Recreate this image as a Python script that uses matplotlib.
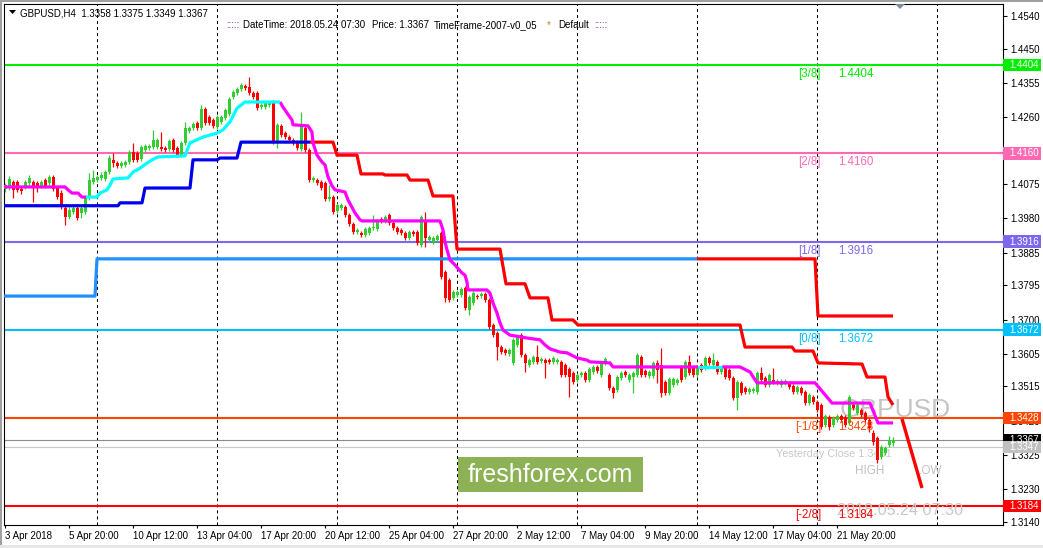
import matplotlib
matplotlib.use("Agg")
import matplotlib.pyplot as plt
from matplotlib.patches import Rectangle, Polygon

plt.rcParams['font.family'] = ['Liberation Sans', 'DejaVu Sans']

# ---------------- data (GBPUSD H4) ----------------
opens = [1.4061, 1.4067, 1.4081, 1.4081, 1.4061, 1.4067, 1.4078, 1.4081, 1.4078, 1.4070,
         1.4086, 1.4078, 1.4095, 1.4064, 1.4050, 1.4009, 1.3984, 1.3998, 1.4009, 1.3995,
         1.3998, 1.4037, 1.4081, 1.4086, 1.4092, 1.4089, 1.4108, 1.4142, 1.4133, 1.4125,
         1.4128, 1.4136, 1.4164, 1.4161, 1.4144, 1.4169, 1.4175, 1.4177, 1.4177, 1.4177,
         1.4175, 1.4172, 1.4197, 1.4175, 1.4155, 1.4189, 1.4222, 1.4230, 1.4244, 1.4230,
         1.4283, 1.4261, 1.4252, 1.4233, 1.4247, 1.4258, 1.4269, 1.4316, 1.4327, 1.4338,
         1.4346, 1.4344, 1.4327, 1.4327, 1.4288, 1.4288, 1.4294, 1.4302, 1.4191, 1.4236,
         1.4216, 1.4205, 1.4197, 1.4191, 1.4172, 1.4230, 1.4169, 1.4086, 1.4086, 1.4081,
         1.4078, 1.4034, 1.4039, 1.4001, 1.4009, 1.4012, 1.3990, 1.3965, 1.3942, 1.3940,
         1.3934, 1.3940, 1.3954, 1.3951, 1.3979, 1.3973, 1.3990, 1.3967, 1.3954, 1.3948,
         1.3940, 1.3926, 1.3942, 1.3942, 1.3906, 1.3970, 1.3920, 1.3915, 1.3920, 1.3940,
         1.3832, 1.3810, 1.3760, 1.3768, 1.3768, 1.3787, 1.3727, 1.3746, 1.3765, 1.3765,
         1.3771, 1.3754, 1.3685, 1.3663, 1.3624, 1.3616, 1.3605, 1.3580, 1.3630, 1.3657,
         1.3602, 1.3574, 1.3583, 1.3597, 1.3585, 1.3588, 1.3588, 1.3583, 1.3583, 1.3583,
         1.3574, 1.3563, 1.3552, 1.3533, 1.3547, 1.3552, 1.3533, 1.3555, 1.3569, 1.3547,
         1.3580, 1.3547, 1.3511, 1.3505, 1.3539, 1.3555, 1.3533, 1.3541, 1.3547, 1.3597,
         1.3558, 1.3544, 1.3544, 1.3580, 1.3574, 1.3528, 1.3497, 1.3519, 1.3525, 1.3569,
         1.3541, 1.3583, 1.3566, 1.3547, 1.3574, 1.3566, 1.3594, 1.3574, 1.3583, 1.3555,
         1.3566, 1.3561, 1.3539, 1.3483, 1.3525, 1.3511, 1.3500, 1.3503, 1.3500, 1.3552,
         1.3539, 1.3519, 1.3533, 1.3525, 1.3519, 1.3525, 1.3525, 1.3517, 1.3500, 1.3511,
         1.3500, 1.3469, 1.3486, 1.3472, 1.3464, 1.3409, 1.3431, 1.3409, 1.3422, 1.3434,
         1.3431, 1.3414, 1.3464, 1.3442, 1.3450, 1.3442, 1.3422, 1.3386, 1.3372, 1.3320,
         1.3331, 1.3353, 1.3358]
highs = [1.4078, 1.4097, 1.4086, 1.4086, 1.4070, 1.4086, 1.4100, 1.4086, 1.4084, 1.4086,
         1.4092, 1.4100, 1.4100, 1.4070, 1.4059, 1.4017, 1.4012, 1.4015, 1.4017, 1.4017,
         1.4042, 1.4106, 1.4114, 1.4100, 1.4108, 1.4114, 1.4155, 1.4161, 1.4139, 1.4139,
         1.4142, 1.4169, 1.4189, 1.4166, 1.4183, 1.4186, 1.4186, 1.4225, 1.4202, 1.4219,
         1.4180, 1.4200, 1.4202, 1.4180, 1.4194, 1.4247, 1.4236, 1.4247, 1.4250, 1.4294,
         1.4288, 1.4266, 1.4258, 1.4266, 1.4266, 1.4285, 1.4316, 1.4335, 1.4344, 1.4355,
         1.4352, 1.4371, 1.4333, 1.4333, 1.4299, 1.4305, 1.4305, 1.4308, 1.4244, 1.4241,
         1.4222, 1.4211, 1.4202, 1.4197, 1.4274, 1.4239, 1.4175, 1.4097, 1.4092, 1.4086,
         1.4084, 1.4072, 1.4045, 1.4023, 1.4023, 1.4017, 1.3995, 1.3970, 1.3954, 1.3945,
         1.3956, 1.3959, 1.3990, 1.3979, 1.3984, 1.3990, 1.3995, 1.3973, 1.3959, 1.3954,
         1.3945, 1.3948, 1.3948, 1.3948, 1.3990, 1.3998, 1.3934, 1.3931, 1.3937, 1.3945,
         1.3837, 1.3815, 1.3782, 1.3782, 1.3790, 1.3793, 1.3768, 1.3779, 1.3771, 1.3776,
         1.3776, 1.3760, 1.3691, 1.3668, 1.3630, 1.3622, 1.3622, 1.3649, 1.3655, 1.3663,
         1.3608, 1.3594, 1.3602, 1.3630, 1.3597, 1.3594, 1.3594, 1.3599, 1.3594, 1.3588,
         1.3580, 1.3569, 1.3558, 1.3552, 1.3558, 1.3558, 1.3569, 1.3574, 1.3574, 1.3585,
         1.3597, 1.3552, 1.3517, 1.3547, 1.3558, 1.3561, 1.3552, 1.3558, 1.3608, 1.3602,
         1.3563, 1.3561, 1.3585, 1.3588, 1.3622, 1.3533, 1.3541, 1.3541, 1.3539, 1.3574,
         1.3588, 1.3602, 1.3571, 1.3574, 1.3580, 1.3599, 1.3599, 1.3608, 1.3588, 1.3571,
         1.3571, 1.3566, 1.3544, 1.3533, 1.3530, 1.3517, 1.3514, 1.3514, 1.3558, 1.3569,
         1.3544, 1.3552, 1.3566, 1.3536, 1.3536, 1.3536, 1.3530, 1.3522, 1.3519, 1.3517,
         1.3505, 1.3497, 1.3491, 1.3478, 1.3469, 1.3439, 1.3436, 1.3434, 1.3439, 1.3439,
         1.3436, 1.3491, 1.3469, 1.3469, 1.3456, 1.3447, 1.3428, 1.3395, 1.3378, 1.3353,
         1.3350, 1.3378, 1.3375]
lows = [1.4053, 1.4059, 1.4037, 1.4053, 1.4048, 1.4061, 1.4072, 1.4026, 1.4053, 1.4064,
        1.4064, 1.4072, 1.4056, 1.4034, 1.4006, 1.3962, 1.3979, 1.3992, 1.3976, 1.3981,
        1.3992, 1.4031, 1.4075, 1.4081, 1.4086, 1.4084, 1.4103, 1.4122, 1.4119, 1.4119,
        1.4122, 1.4130, 1.4136, 1.4136, 1.4139, 1.4164, 1.4169, 1.4172, 1.4172, 1.4166,
        1.4164, 1.4166, 1.4164, 1.4150, 1.4150, 1.4183, 1.4216, 1.4225, 1.4225, 1.4225,
        1.4239, 1.4239, 1.4230, 1.4227, 1.4241, 1.4252, 1.4263, 1.4310, 1.4322, 1.4333,
        1.4335, 1.4322, 1.4310, 1.4280, 1.4283, 1.4283, 1.4288, 1.4186, 1.4175, 1.4205,
        1.4200, 1.4191, 1.4183, 1.4169, 1.4166, 1.4164, 1.4081, 1.4081, 1.4072, 1.4059,
        1.4028, 1.4028, 1.3992, 1.3995, 1.4003, 1.3984, 1.3959, 1.3937, 1.3937, 1.3929,
        1.3929, 1.3934, 1.3948, 1.3945, 1.3967, 1.3967, 1.3962, 1.3948, 1.3937, 1.3934,
        1.3920, 1.3920, 1.3931, 1.3906, 1.3901, 1.3901, 1.3915, 1.3909, 1.3915, 1.3812,
        1.3749, 1.3749, 1.3754, 1.3762, 1.3762, 1.3727, 1.3713, 1.3740, 1.3757, 1.3760,
        1.3749, 1.3674, 1.3652, 1.3588, 1.3605, 1.3602, 1.3599, 1.3574, 1.3624, 1.3597,
        1.3555, 1.3569, 1.3577, 1.3577, 1.3580, 1.3539, 1.3577, 1.3577, 1.3577, 1.3541,
        1.3541, 1.3486, 1.3522, 1.3528, 1.3541, 1.3528, 1.3528, 1.3550, 1.3552, 1.3541,
        1.3574, 1.3505, 1.3483, 1.3500, 1.3533, 1.3541, 1.3528, 1.3497, 1.3541, 1.3541,
        1.3541, 1.3539, 1.3539, 1.3525, 1.3486, 1.3491, 1.3491, 1.3514, 1.3519, 1.3528,
        1.3536, 1.3547, 1.3541, 1.3541, 1.3555, 1.3561, 1.3574, 1.3569, 1.3550, 1.3550,
        1.3536, 1.3533, 1.3478, 1.3450, 1.3491, 1.3494, 1.3494, 1.3497, 1.3494, 1.3528,
        1.3514, 1.3514, 1.3522, 1.3519, 1.3514, 1.3519, 1.3508, 1.3494, 1.3494, 1.3491,
        1.3464, 1.3464, 1.3467, 1.3445, 1.3397, 1.3403, 1.3395, 1.3403, 1.3417, 1.3417,
        1.3403, 1.3409, 1.3450, 1.3436, 1.3431, 1.3417, 1.3389, 1.3353, 1.3303, 1.3314,
        1.3326, 1.3347, 1.3349]
closes = [1.4072, 1.4089, 1.4059, 1.4059, 1.4056, 1.4081, 1.4092, 1.4064, 1.4070, 1.4081,
          1.4070, 1.4095, 1.4061, 1.4039, 1.4012, 1.3984, 1.4003, 1.4009, 1.3981, 1.4009,
          1.4037, 1.4086, 1.4092, 1.4095, 1.4100, 1.4108, 1.4147, 1.4133, 1.4125, 1.4133,
          1.4136, 1.4164, 1.4142, 1.4142, 1.4177, 1.4180, 1.4180, 1.4197, 1.4197, 1.4172,
          1.4169, 1.4194, 1.4169, 1.4155, 1.4189, 1.4230, 1.4230, 1.4241, 1.4230, 1.4283,
          1.4244, 1.4244, 1.4236, 1.4261, 1.4261, 1.4280, 1.4310, 1.4330, 1.4338, 1.4349,
          1.4341, 1.4327, 1.4316, 1.4285, 1.4294, 1.4299, 1.4299, 1.4191, 1.4239, 1.4211,
          1.4205, 1.4197, 1.4189, 1.4175, 1.4236, 1.4169, 1.4086, 1.4092, 1.4078, 1.4064,
          1.4034, 1.4039, 1.3998, 1.4017, 1.4017, 1.3990, 1.3965, 1.3942, 1.3948, 1.3934,
          1.3951, 1.3954, 1.3956, 1.3970, 1.3973, 1.3984, 1.3967, 1.3954, 1.3942, 1.3940,
          1.3926, 1.3942, 1.3937, 1.3912, 1.3984, 1.3926, 1.3929, 1.3926, 1.3931, 1.3818,
          1.3760, 1.3754, 1.3776, 1.3776, 1.3784, 1.3732, 1.3762, 1.3773, 1.3762, 1.3771,
          1.3754, 1.3680, 1.3657, 1.3624, 1.3610, 1.3608, 1.3616, 1.3644, 1.3649, 1.3602,
          1.3580, 1.3588, 1.3597, 1.3583, 1.3591, 1.3580, 1.3583, 1.3594, 1.3588, 1.3547,
          1.3547, 1.3541, 1.3528, 1.3547, 1.3552, 1.3533, 1.3563, 1.3569, 1.3558, 1.3580,
          1.3591, 1.3511, 1.3497, 1.3541, 1.3552, 1.3547, 1.3547, 1.3552, 1.3602, 1.3547,
          1.3547, 1.3555, 1.3580, 1.3561, 1.3497, 1.3497, 1.3536, 1.3536, 1.3533, 1.3533,
          1.3583, 1.3552, 1.3547, 1.3569, 1.3561, 1.3594, 1.3580, 1.3588, 1.3555, 1.3566,
          1.3541, 1.3539, 1.3483, 1.3528, 1.3497, 1.3500, 1.3508, 1.3508, 1.3552, 1.3533,
          1.3519, 1.3547, 1.3528, 1.3530, 1.3530, 1.3530, 1.3514, 1.3500, 1.3514, 1.3497,
          1.3469, 1.3491, 1.3472, 1.3450, 1.3403, 1.3434, 1.3403, 1.3428, 1.3434, 1.3422,
          1.3409, 1.3486, 1.3456, 1.3464, 1.3436, 1.3422, 1.3400, 1.3362, 1.3312, 1.3347,
          1.3345, 1.3367, 1.3367]

date_pos = [0, 16, 32, 48, 64, 80, 96, 112, 128, 144, 160, 176, 192, 208]
date_labels = ['3 Apr 2018', '5 Apr 20:00', '10 Apr 12:00', '13 Apr 04:00', '17 Apr 20:00',
               '20 Apr 12:00', '25 Apr 04:00', '27 Apr 20:00', '2 May 12:00', '7 May 04:00',
               '9 May 20:00', '14 May 12:00', '17 May 04:00', '21 May 20:00']
week_sep = [23, 53, 83, 113, 143, 173, 203, 233]
price_ticks = [1.4540, 1.4450, 1.4355, 1.4260, 1.4165, 1.4075, 1.3980, 1.3885, 1.3795,
               1.3700, 1.3605, 1.3515, 1.3420, 1.3325, 1.3230, 1.3140]

murrey_levels = [1.4404, 1.4160, 1.3916, 1.3672, 1.3428, 1.3184]
murrey_names = ['[3/8]', '[2/8]', '[1/8]', '[0/8]', '[-1/8]', '[-2/8]']
murrey_colors = ['#00EE00', '#FF69B4', '#7B68EE', '#00BFFF', '#FF4500', '#FF0000']
bid_price = 1.3367
prev_price = 1.3347

# step indicator lines: (bar index, price) vertices
blue_sup_x = [-0.25, 28.25, 28.75, 34.25, 35, 46.25, 47, 53, 53.75, 58, 59, 76.25]
blue_sup_y = [1.4015, 1.4015, 1.4023, 1.4023, 1.4064, 1.4064, 1.4142, 1.4142, 1.4147, 1.4147, 1.4191, 1.4191]
red_res1_x = [76.25, 82, 83, 88, 89, 94.5, 95, 100.5, 101.25, 105.75, 107, 112, 113, 123.75,
              125.25, 130, 131.25, 135.75, 136.75, 142, 143.25, 183.75, 185, 196.75, 197.5,
              202, 203.25, 214.25, 215.5, 220, 220.75, 222]
red_res1_y = [1.4191, 1.4191, 1.4155, 1.4155, 1.4103, 1.4103, 1.4100, 1.4100, 1.4086, 1.4086,
              1.4042, 1.4042, 1.3895, 1.3895, 1.3799, 1.3799, 1.3760, 1.3760, 1.3699, 1.3699,
              1.3685, 1.3685, 1.3624, 1.3624, 1.3613, 1.3613, 1.3580, 1.3577, 1.3541, 1.3541,
              1.3486, 1.3464]
lblue_sup_x = [-0.25, 22.5, 23, 173]
lblue_sup_y = [1.3765, 1.3765, 1.3868, 1.3868]
red_res2_x = [173, 202.5, 203.25, 222]
red_res2_y = [1.3868, 1.3868, 1.3710, 1.3710]
cyan1_x = [20.25, 23, 23.75, 25.5, 26.25, 27, 30.75, 32, 33.75, 35.5, 36.75, 38.25, 45, 46.25,
           49.5, 53, 54.5, 56.25, 58, 60, 68.75]
cyan1_y = [1.4039, 1.4039, 1.4050, 1.4059, 1.4072, 1.4089, 1.4092, 1.4108, 1.4119, 1.4133,
           1.4142, 1.4150, 1.4153, 1.4189, 1.4205, 1.4216, 1.4225, 1.4247, 1.4285, 1.4302, 1.4302]
cyan2_x = [173.25, 179.25]
cyan2_y = [1.3569, 1.3569]
mag1_x = [-0.25, 15, 15.75, 16.75, 18.25, 19.25, 20.5]
mag1_y = [1.4067, 1.4067, 1.4059, 1.4050, 1.4050, 1.4039, 1.4039]
mag2_x = [68.75, 69.5, 70.5, 71.75, 72, 75.75, 76.75, 77, 78, 79.25, 80, 80.75, 81.75, 82.5, 85,
          85.75, 87.5, 88.75, 89.25, 108.75, 109.5, 110, 110.5, 111.25, 112.5, 114.25, 115,
          115.5, 115.75, 120.5, 121.25, 122, 123, 123.75, 124.5, 126.25, 130.5, 133.75, 135,
          136.25, 138.75, 140.5, 143, 145.5, 146.25, 151.25, 152, 173.25]
mag2_y = [1.4302, 1.4288, 1.4272, 1.4252, 1.4239, 1.4236, 1.4219, 1.4189, 1.4155, 1.4136,
          1.4128, 1.4095, 1.4070, 1.4059, 1.4053, 1.4031, 1.3995, 1.3976, 1.3973, 1.3973,
          1.3948, 1.3915, 1.3893, 1.3865, 1.3851, 1.3829, 1.3823, 1.3804, 1.3782, 1.3782,
          1.3773, 1.3746, 1.3718, 1.3691, 1.3671, 1.3657, 1.3649, 1.3644, 1.3630, 1.3619,
          1.3610, 1.3608, 1.3594, 1.3588, 1.3583, 1.3580, 1.3569, 1.3569]
mag3_x = [179.25, 183.75, 186.25, 188, 202.5, 206.75, 216.25, 218.25, 222]
mag3_y = [1.3569, 1.3569, 1.3555, 1.3525, 1.3525, 1.3469, 1.3469, 1.3414, 1.3414]
proj_x = [224.25, 229.25]
proj_y = [1.3425, 1.3234]

# ---------------- figure ----------------
W, H = 1043, 548
fig = plt.figure(figsize=(W / 100, H / 100), dpi=100)
fig.patch.set_facecolor('white')
ax = fig.add_axes([4 / W, 1 - 525 / H, 999 / W, 521 / H])
ax.set_facecolor('white')
ax.set_xlim(-0.25, 249.5)
ax.set_ylim(1.31316, 1.45732)

BULL = '#32CD32'
BEAR = '#FF0000'

# week separators
for v in week_sep:
    ax.axvline(v, color='black', lw=0.75, ls=(0, (2.9, 2.9)), zorder=0.8)

# Murrey levels
for lev, col in zip(murrey_levels, murrey_colors):
    ax.axhline(lev, color=col, lw=1.5, zorder=1)
ax.axhline(bid_price, color='#8C8C8C', lw=0.8, zorder=1)
ax.axhline(prev_price, color='#C8C8C8', lw=0.8, zorder=1)

# watermark-ish texts (behind candles)
ax.text(208.75, 1.3430, 'GBPUSD', fontsize=19, color='#C4C4C4', ha='left', va='baseline', zorder=1.5)
ax.text(192.75, 1.3320, 'Yesterday Close 1.3431', fontsize=7.8, color='#C8C8C8', ha='left',
        va='baseline', zorder=1.5)
ax.text(212.5, 1.3273, 'HIGH', fontsize=8.4, color='#C0C0C0', ha='left', va='baseline', zorder=1.5)
ax.text(234.25, 1.3273, 'LOW', fontsize=8.4, color='#C0C0C0', ha='right', va='baseline', zorder=1.5)
ax.text(208, 1.3160, '2018.05.24 07:30', fontsize=11.6, color='#C8C8C8', ha='left',
        va='baseline', zorder=1.5, clip_on=False)

# candles
n = len(closes)
xs = list(range(n))
cols = [BULL if closes[i] > opens[i] else BEAR for i in xs]
ax.vlines(xs, lows, highs, colors=cols, lw=0.9, zorder=3)
bottoms = [min(opens[i], closes[i]) for i in xs]
heights = [max(abs(closes[i] - opens[i]), 0.00028) for i in xs]
ax.bar(xs, heights, bottom=bottoms, width=0.75, color=cols, linewidth=0, zorder=3)

# indicator lines
LW = 2.3
ax.plot(blue_sup_x, blue_sup_y, color='#0000EE', lw=LW, zorder=4, solid_capstyle='butt')
ax.plot(lblue_sup_x, lblue_sup_y, color='#1E90FF', lw=LW, zorder=4, solid_capstyle='butt')
ax.plot(red_res1_x, red_res1_y, color='#FF0000', lw=LW, zorder=4, solid_capstyle='butt')
ax.plot(red_res2_x, red_res2_y, color='#FF0000', lw=LW, zorder=4, solid_capstyle='butt')
ax.plot(mag1_x, mag1_y, color='#FF00FF', lw=LW, zorder=4.2, solid_capstyle='butt')
ax.plot(mag2_x, mag2_y, color='#FF00FF', lw=LW, zorder=4.2, solid_capstyle='butt')
ax.plot(mag3_x, mag3_y, color='#FF00FF', lw=LW, zorder=4.2, solid_capstyle='butt')
ax.plot(cyan1_x, cyan1_y, color='#00FFFF', lw=LW, zorder=4.3, solid_capstyle='butt')
ax.plot(cyan2_x, cyan2_y, color='#00FFFF', lw=LW, zorder=4.3, solid_capstyle='butt')
ax.plot(proj_x, proj_y, color='#FF0000', lw=2.4, zorder=4.4, solid_capstyle='butt')

# Murrey labels
off = 3 / 3614.0
for lev, name, col in zip(murrey_levels, murrey_names, murrey_colors):
    x0 = 197.6 if name.startswith('[-') else 198.4
    ax.text(x0, lev - off, name, fontsize=8.3, color=col, ha='left', va='top', zorder=5)
    ax.text(208.4, lev - off, f'{lev:.4f}', fontsize=8.3, color=col, ha='left', va='top', zorder=5)

# axes styling
for s in ax.spines.values():
    s.set_color('black')
    s.set_linewidth(0.8)
ax.yaxis.tick_right()
ax.set_yticks(price_ticks)
ax.set_yticklabels([f'{v:.4f}' for v in price_ticks])
ax.tick_params(axis='y', direction='out', length=3, width=0.8, pad=2.5, labelsize=7, colors='black')
ax.set_xticks(date_pos)
ax.set_xticklabels(date_labels)
for lab in ax.get_xticklabels():
    lab.set_horizontalalignment('left')
ax.tick_params(axis='x', direction='out', length=2.2, width=0.8, pad=2, labelsize=7, colors='black')

# right-side price boxes
ytr = ax.get_yaxis_transform()
box_h = 12.5 / 3614.0
box_items = [(1.4404, '#00EE00'), (1.4160, '#FF69B4'), (1.3916, '#7B68EE'), (1.3672, '#00BFFF'),
             (1.3428, '#FF4500'), (1.3367, '#000000'), (1.3347, '#C0C0C0'), (1.3184, '#FF0000')]
for v, fc in box_items:
    ax.add_patch(Rectangle((1.0, v - box_h / 2), 38 / 999, box_h, transform=ytr, fc=fc, ec='none',
                           clip_on=False, zorder=6))
    ax.text(1.0 + 6 / 999, v, f'{v:.4f}', transform=ytr, fontsize=7, color='white', ha='left',
            va='center', clip_on=False, zorder=7)

# top texts
fig.add_artist(Polygon([[9 / W, 1 - 10 / H], [16 / W, 1 - 10 / H], [12.5 / W, 1 - 14 / H]],
                       closed=True, transform=fig.transFigure, fc='black', ec='none'))
fig.text(20 / W, 1 - 16.5 / H, 'GBPUSD,H4  1.3358 1.3375 1.3349 1.3367', fontsize=7,
         va='baseline', ha='left')
ty = 1 - 28.5 / H
fig.text(226 / W, ty, ':::::', fontsize=7, va='baseline', ha='left', color='#800080')
fig.text(243 / W, ty, 'DateTime: 2018.05.24 07:30', fontsize=7, va='baseline', ha='left')
fig.text(372 / W, ty, 'Price: 1.3367', fontsize=7, va='baseline', ha='left')
fig.text(434 / W, ty, 'TimeFrame-2007-v0_05', fontsize=7, va='baseline', ha='left')
fig.text(547 / W, ty, '*', fontsize=7, va='baseline', ha='left', color='#B8860B')
fig.text(558 / W, ty, 'Default', fontsize=7, va='baseline', ha='left')
fig.text(594 / W, ty, ':::::', fontsize=7, va='baseline', ha='left', color='#800080')

# chart shift marker
fig.add_artist(Polygon([[895 / W, 1 - 4 / H], [905 / W, 1 - 4 / H], [900 / W, 1 - 9 / H]],
                       closed=True, transform=fig.transFigure, fc='#7F8C9A', ec='none'))

# watermark box
fig.add_artist(Rectangle((458 / W, 1 - 492 / H), 185 / W, 35 / H, transform=fig.transFigure,
                         fc='#8DB255', ec='none', zorder=8))
fig.text(550.5 / W, 1 - 475 / H, 'freshforex.com', fontsize=18, color='white', ha='center',
         va='center', zorder=9)

# window borders
fig.add_artist(Rectangle((0, 1 - 2 / H), 1, 2 / H, transform=fig.transFigure, fc='#A0A0A0', ec='none'))
fig.add_artist(Rectangle((0, 0), 2 / W, 1, transform=fig.transFigure, fc='#A0A0A0', ec='none'))
fig.add_artist(Rectangle((0, 0), 1, 3 / H, transform=fig.transFigure, fc='#E6E6E6', ec='none'))

fig.savefig('out.png', dpi=100, facecolor='white')
